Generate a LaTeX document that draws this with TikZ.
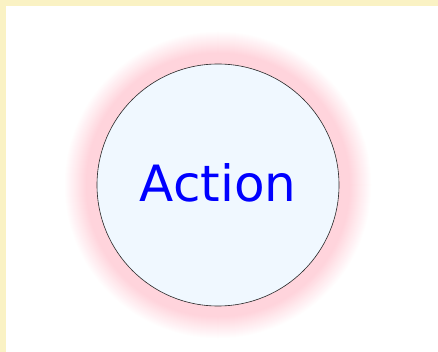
\documentclass[tikz,border=0pt]{standalone}
\usepackage{fontspec}
\setsansfont{DejaVu Sans}
\definecolor{cream}{RGB}{250,242,196}
\definecolor{aliceblue}{RGB}{240,248,255}
\definecolor{glowpink}{RGB}{255,212,220}
\begin{document}
\begin{tikzpicture}[x=1pt, y=-1pt, font=\sffamily,
    actionnode/.style={circle, draw=black!85, line width=0.6pt, fill=aliceblue, minimum size=242pt, inner sep=0pt, text=blue, font=\sffamily\fontsize{50}{54}\selectfont}]
  % page and frame
  \fill[cream] (0,0) rectangle (438,352);
  \fill[white] (6,6) rectangle (438,352);
  \useasboundingbox (0,0) rectangle (438,352);
  % soft halo, outside in
  \foreach \r in {0,...,26} {
    \pgfmathsetmacro{\pct}{min(100,(\r+1)*4.5)}
    \fill[glowpink!\pct!white] (218,185) circle ({153-\r});
  }
  \node[actionnode] (action) at (218,185) {\raisebox{4pt}{Action}};
\end{tikzpicture}
\end{document}
